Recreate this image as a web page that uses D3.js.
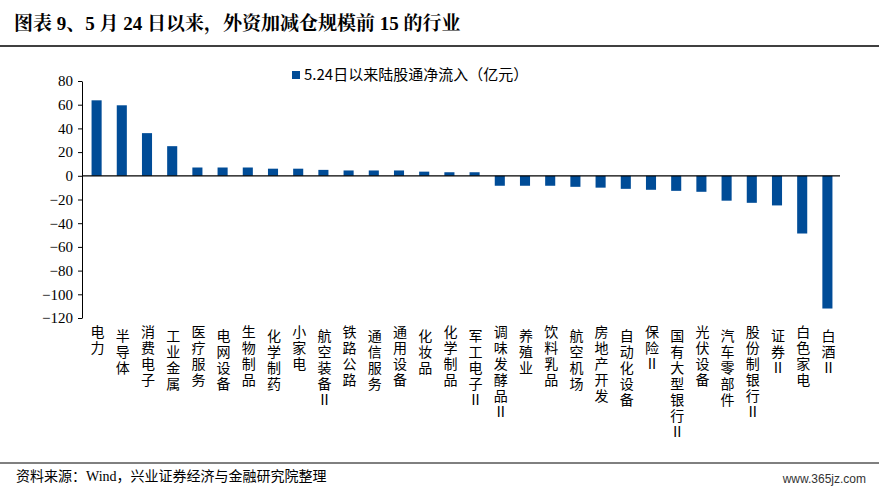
<!DOCTYPE html>
<html><head><meta charset="utf-8">
<script src="https://cdn.jsdelivr.net/npm/d3@7"></script>
<style>
body{margin:0;background:#fff;font-family:"Liberation Serif","Noto Sans CJK SC",serif;}
text.cat{writing-mode:vertical-rl;text-orientation:upright;}
</style></head><body>
<script>
// industries and net inflow since 5/24 (亿元)
const industries = ['电力','半导体','消费电子','工业金属','医疗服务','电网设备','生物制品','化学制药','小家电','航空装备II','铁路公路','通信服务','通用设备','化妆品','化学制品','军工电子II','调味发酵品II','养殖业','饮料乳品','航空机场','房地产开发','自动化设备','保险II','国有大型银行II','光伏设备','汽车零部件','股份制银行II','证券II','白色家电','白酒II'];
const inflow = [63.7,59.5,36,25,7,7,7,6,6,5,4.5,4.5,4.5,3.5,3,3,-8.4,-8.4,-8.4,-9.3,-10,-11,-11.8,-12.7,-13.5,-21,-22.8,-25,-48.7,-112];
const yTicks = [80,60,40,20,0,-20,-40,-60,-80,-100,-120];
const seriesName = '5.24日以来陆股通净流入（亿元）';

const W = 879, H = 493;
const svg = d3.select('body').append('svg').attr('width', W).attr('height', H);
const cjk = '"Noto Sans CJK SC",sans-serif';

svg.append('text').attr('x', 14).attr('y', 30).attr('font-size', 19).attr('font-weight', 'bold')
  .attr('font-family', '"Liberation Serif","Noto Serif CJK SC","Noto Sans CJK SC",serif')
  .text('图表 9、5 月 24 日以来，外资加减仓规模前 15 的行业');
svg.append('line').attr('x1', 0).attr('x2', W).attr('y1', 46).attr('y2', 46).attr('stroke', '#000').attr('stroke-width', 1.5);
svg.append('line').attr('x1', 0).attr('x2', W).attr('y1', 463).attr('y2', 463).attr('stroke', '#000').attr('stroke-width', 1);
svg.append('text').attr('x', 16).attr('y', 481).attr('font-size', 14).attr('font-family', '"Liberation Serif","Noto Sans CJK SC",serif')
  .text('资料来源：Wind，兴业证券经济与金融研究院整理');
svg.append('text').attr('x', 866).attr('y', 483).attr('text-anchor', 'end').attr('font-size', 12).attr('fill', '#333')
  .attr('font-family', 'Liberation Sans,sans-serif').text('www.365jz.com');

const x = d3.scaleBand().domain(industries).range([84, 840]).paddingInner(0.6).paddingOuter(0.3);
const y = d3.scaleLinear().domain([-120, 80]).range([318, 81]);

svg.selectAll('rect.bar').data(industries).enter().append('rect')
  .attr('x', d => x(d)).attr('width', x.bandwidth())
  .attr('y', (d, i) => y(Math.max(0, inflow[i])))
  .attr('height', (d, i) => Math.abs(y(inflow[i]) - y(0)))
  .attr('fill', '#004c97');

const yAxis = svg.append('g').attr('transform', 'translate(82,0)')
  .call(d3.axisLeft(y).tickValues(yTicks).tickSize(4).tickSizeOuter(0));
yAxis.selectAll('text').attr('font-size', 15).attr('font-family', 'Liberation Serif,serif').attr('fill', '#000').attr('dx', -2);
yAxis.select('.domain').attr('stroke', '#000');

svg.append('line').attr('x1', 82).attr('x2', 840).attr('y1', y(0)).attr('y2', y(0)).attr('stroke', '#000').attr('stroke-width', 1.2);

// vertical category labels (upright glyphs, top-to-bottom); "II" drawn as one roman-numeral glyph
svg.selectAll('text.cat').data(industries).enter().append('text')
  .attr('class', 'cat')
  .attr('x', d => x(d) + x.bandwidth() / 2 + 1)
  .attr('y', (d, i) => 325 + (i % 2) * 4)
  .attr('font-size', 14).attr('font-family', cjk)
  .attr('letter-spacing', 2)
  .text(d => d.replace('II', 'Ⅱ'));

// legend
svg.append('rect').attr('x', 292).attr('y', 71).attr('width', 8).attr('height', 8).attr('fill', '#004c97');
svg.append('text').attr('x', 304).attr('y', 80).attr('font-size', 15).attr('font-family', cjk).text(seriesName);
</script>
</body></html>
